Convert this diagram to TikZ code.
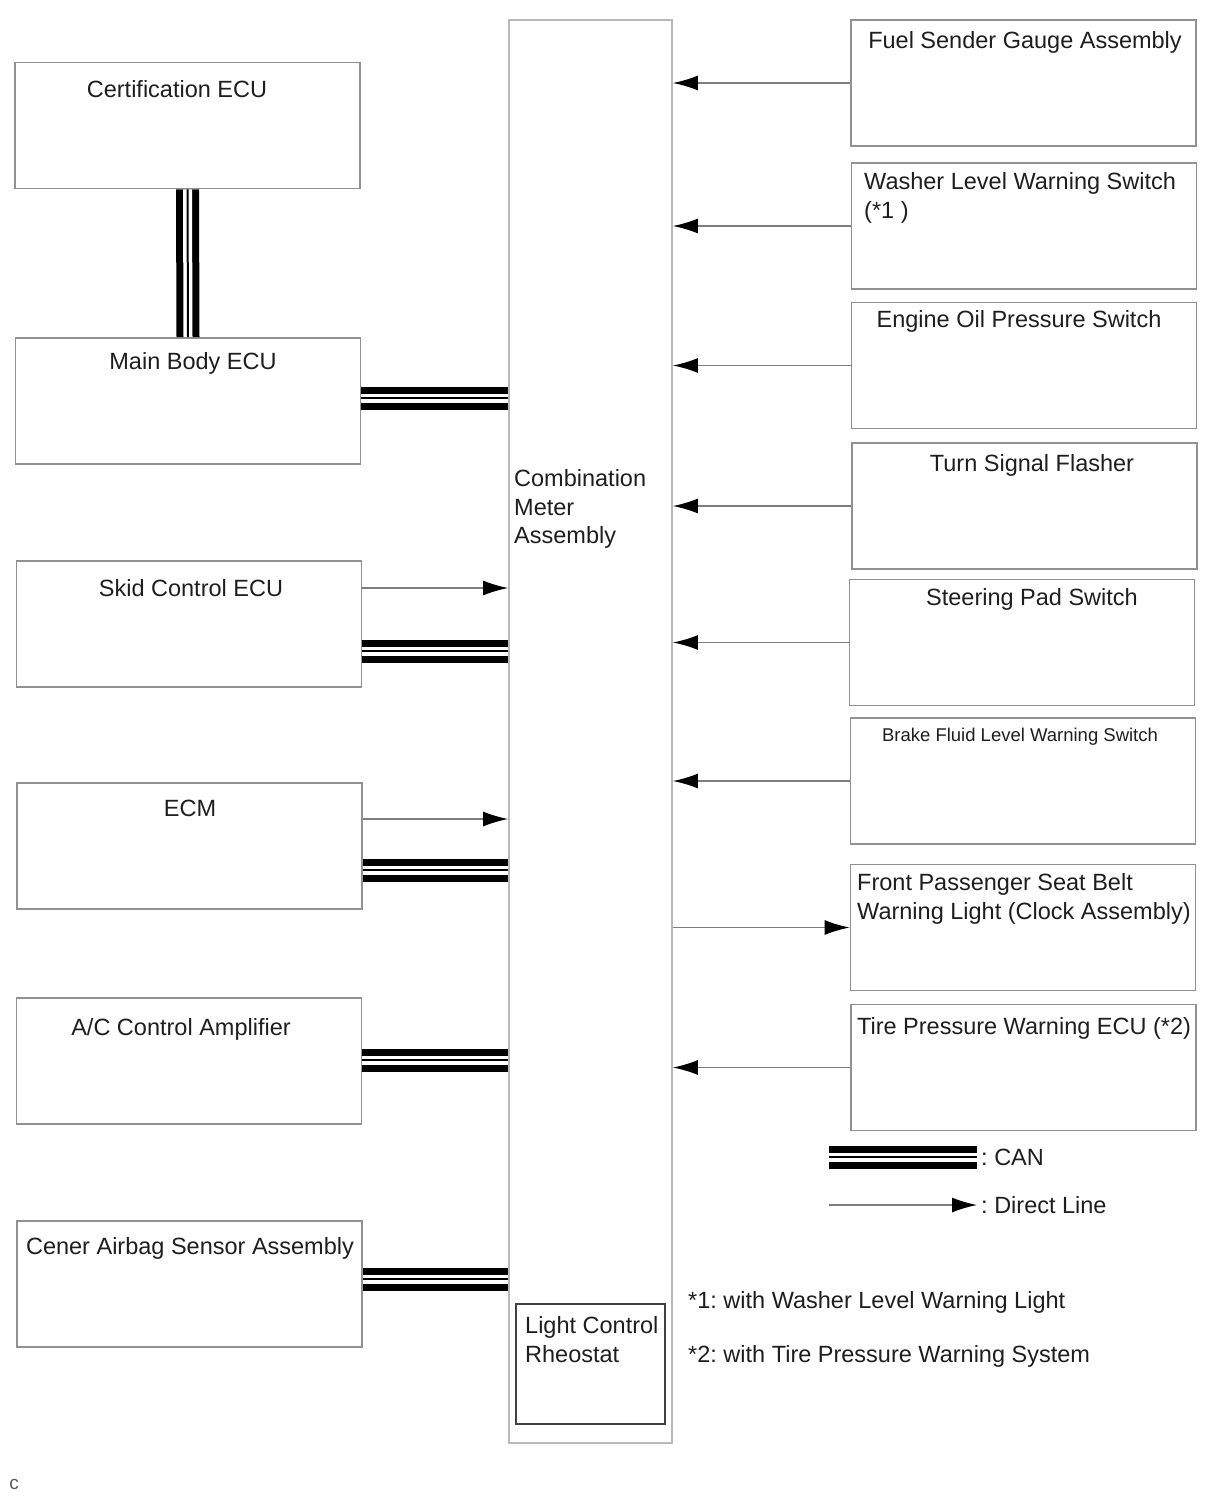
\documentclass[tikz,border=0pt]{standalone}
\usepackage{fontspec}
\setmainfont{Liberation Sans}
\usetikzlibrary{arrows.meta}
\definecolor{boxgray}{RGB}{145,145,145}
\definecolor{metergray}{RGB}{185,185,185}
\definecolor{linegray}{RGB}{125,125,125}
\definecolor{txtcol}{RGB}{30,30,30}
\frenchspacing

\begin{document}
\begin{tikzpicture}[x=1pt,y=-1pt,>={Latex[length=25pt,width=15pt,black]},
        blk/.style={draw=boxgray,line width=1.8pt,inner sep=0pt,minimum width=345pt,minimum height=126pt},
        txt/.style={text=txtcol,inner sep=0pt,font=\fontsize{23.5}{28.5}\selectfont},
        sml/.style={text=txtcol,inner sep=0pt,font=\fontsize{18.5}{22}\selectfont},
        direct/.style={->,draw=linegray,line width=1.4pt},
        can/.style={draw=white,line width=9pt,preaction={draw=black,line width=23pt},postaction={draw=black,line width=2pt}}]
                \useasboundingbox (0,0) rectangle (1216,1498);

                \node[blk]                (cert)   at (187.5,125.5)  {};
                \node[blk]                (mbecu)  at (188,401)      {};
                \node[blk]                (skid)   at (189,624)      {};
                \node[blk]                (ecm)    at (189.5,846)    {};
                \node[blk]                (acamp)  at (189,1061)     {};
                \node[blk]                (airbag) at (189.5,1284)   {};
                \node[blk,draw=metergray,minimum width=163pt,minimum height=1423pt]
                                          (meter)  at (590.5,731.5)  {};
                \node[blk,draw=black!75,minimum width=149pt,minimum height=120pt]
                                          (rheo)   at (590.5,1364)   {};
                \node[blk]                (fuel)   at (1023.5,83)    {};
                \node[blk]                (washer) at (1024,226)     {};
                \node[blk]                (oilsw)  at (1024,365.5)   {};
                \node[blk]                (turn)   at (1024.5,506)   {};
                \node[blk]                (steer)  at (1022,642.5)   {};
                \node[blk]                (brake)  at (1023,781)     {};
                \node[blk]                (belt)   at (1023,927.5)   {};
                \node[blk]                (tire)   at (1023.5,1067.5){};

                \node[txt,anchor=north]      (certT)   at (177,80.5)    {Certification ECU};
                \node[txt,anchor=north]      (mbecuT)  at (193,352.5)   {Main Body ECU};
                \node[txt,anchor=north]      (skidT)   at (191,579.5)   {Skid Control ECU};
                \node[txt,anchor=north]      (ecmT)    at (190,799.5)   {ECM};
                \node[txt,anchor=north]      (acampT)  at (181,1018.5)  {A/C Control Amplifier};
                \node[txt,anchor=north]      (airbagT) at (190,1237.5)  {Cener Airbag Sensor Assembly};
                \node[txt,anchor=north west,align=left] (meterT) at (514,469.5) {Combination\\Meter\\Assembly};
                \node[txt,anchor=north west,align=left] (rheoT)  at (525,1316.5) {Light Control\\Rheostat};
                \node[txt,anchor=north]      (fuelT)   at (1025,31.5)   {Fuel Sender Gauge Assembly};
                \node[txt,anchor=north west,align=left] (washerT) at (864,172.5) {Washer Level Warning Switch\\(*1 )};
                \node[txt,anchor=north]      (oilswT)  at (1019,310.5)  {Engine Oil Pressure Switch};
                \node[txt,anchor=north]      (turnT)   at (1032,454.5)  {Turn Signal Flasher};
                \node[txt,anchor=north]      (steerT)  at (1032,588.5)  {Steering Pad Switch};
                \node[sml,anchor=north]      (brakeT)  at (1020,727.5)  {Brake Fluid Level Warning Switch};
                \node[txt,anchor=north west,align=left] (beltT) at (857,873.5) {Front Passenger Seat Belt\\Warning Light (Clock Assembly)};
                \node[txt,anchor=north]      (tireT)   at (1024,1017.5) {Tire Pressure Warning ECU (*2)};

                \foreach \n in {fuel,washer,oilsw,turn,steer,brake,tire}
                    \draw[direct] (\n.west) -- (\n.west -| meter.east);
                \draw[direct] (belt.west -| meter.east) -- (belt.west);

                \coordinate (skidA) at ([yshift=36pt]skid.east);
                \coordinate (ecmA)  at ([yshift=27pt]ecm.east);
                \draw[direct] (skidA) -- (skidA -| meter.west);
                \draw[direct] (ecmA)  -- (ecmA -| meter.west);

                \coordinate (mbecuC)  at ([yshift=3pt]mbecu.east);
                \coordinate (skidC)   at ([yshift=-27pt]skid.east);
                \coordinate (ecmC)    at ([yshift=-24pt]ecm.east);
                \coordinate (acampC)  at ([yshift=1pt]acamp.east);
                \coordinate (airbagC) at ([yshift=5pt]airbag.east);
                \draw[can] (cert.south) -- (mbecu.north);
                \foreach \c in {mbecuC,skidC,ecmC,acampC,airbagC}
                    \draw[can] (\c) -- (\c -| meter.west);

                \coordinate (canL) at (829,1157);
                \coordinate (canR) at (977,1157);
                \coordinate (dirL) at (829,1205);
                \coordinate (dirR) at (977,1205);
                \draw[can] (canL) -- (canR);
                \draw[direct] (dirL) -- (dirR);
                \node[txt,anchor=west]       (canT)    at ([xshift=4pt]canR) {: CAN};
                \node[txt,anchor=west]       (dirT)    at ([xshift=4pt]dirR) {: Direct Line};

                \node[txt,anchor=north west] (note1)   at (688,1291.5)  {*1: with Washer Level Warning Light};
                \node[txt,anchor=north west] (note2)   at (688,1345.5)  {*2: with Tire Pressure Warning System};
                \node[text=black!65,font=\fontsize{19}{21}\selectfont,inner sep=0pt] (figC) at (14,1484) {c};
\end{tikzpicture}
\end{document}
